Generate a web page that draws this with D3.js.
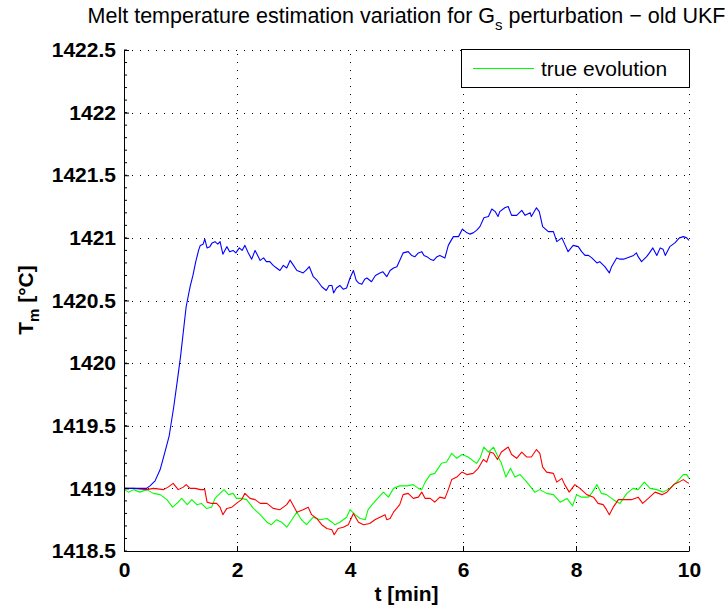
<!DOCTYPE html>
<html>
<head>
<meta charset="utf-8">
<script src="https://cdn.jsdelivr.net/npm/d3@7"></script>
<style>
  html, body { margin: 0; padding: 0; background: #fff; }
  svg { display: block; font-family: "Liberation Sans", Arial, Helvetica, sans-serif; }
</style>
</head>
<body>
<svg id="chart" width="728" height="611"></svg>
<script>
// Melt temperature T_m [°C] over time t [min]
const trueEvolution = [[0,1418.99],[0.08,1418.97],[0.17,1418.99],[0.28,1418.97],[0.40,1418.99],[0.52,1418.96],[0.64,1418.95],[0.76,1418.91],[0.86,1418.85],[0.96,1418.89],[1.02,1418.92],[1.12,1418.87],[1.20,1418.91],[1.29,1418.87],[1.37,1418.88],[1.46,1418.84],[1.55,1418.85],[1.61,1418.92],[1.70,1418.96],[1.77,1418.99],[1.85,1418.95],[1.93,1418.96],[1.99,1418.92],[2.08,1418.92],[2.17,1418.91],[2.29,1418.84],[2.41,1418.79],[2.53,1418.73],[2.61,1418.71],[2.70,1418.75],[2.79,1418.73],[2.88,1418.69],[2.97,1418.75],[3.06,1418.81],[3.14,1418.75],[3.23,1418.71],[3.35,1418.77],[3.47,1418.75],[3.59,1418.76],[3.68,1418.73],[3.73,1418.71],[3.82,1418.73],[3.94,1418.77],[4.00,1418.83],[4.09,1418.79],[4.18,1418.76],[4.27,1418.75],[4.32,1418.83],[4.41,1418.88],[4.53,1418.94],[4.59,1418.97],[4.68,1418.93],[4.77,1419.00],[4.88,1419.02],[5.00,1419.02],[5.12,1419.03],[5.21,1419.00],[5.27,1418.99],[5.33,1419.05],[5.42,1419.11],[5.50,1419.12],[5.62,1419.20],[5.71,1419.21],[5.80,1419.28],[5.89,1419.24],[5.98,1419.27],[6.09,1419.25],[6.24,1419.20],[6.30,1419.24],[6.37,1419.33],[6.45,1419.29],[6.54,1419.33],[6.60,1419.27],[6.68,1419.20],[6.76,1419.09],[6.84,1419.16],[6.92,1419.09],[7.01,1419.11],[7.13,1419.05],[7.27,1418.97],[7.36,1418.99],[7.48,1418.96],[7.60,1418.95],[7.72,1418.89],[7.84,1418.92],[7.94,1418.86],[8.01,1418.95],[8.10,1418.93],[8.22,1418.93],[8.29,1418.97],[8.37,1419.03],[8.45,1418.96],[8.54,1418.95],[8.66,1418.91],[8.78,1418.88],[8.90,1418.96],[9.01,1419.00],[9.10,1418.99],[9.21,1419.05],[9.31,1419.00],[9.43,1418.99],[9.54,1418.97],[9.66,1419.00],[9.78,1419.05],[9.90,1419.11],[9.96,1419.11],[10.00,1419.08]];

const newEstimate = [[0,1419.00],[0.17,1419.00],[0.40,1418.99],[0.52,1419.00],[0.70,1418.99],[0.78,1419.01],[0.87,1419.04],[0.96,1418.99],[1.05,1419.01],[1.10,1419.03],[1.17,1419.00],[1.26,1419.00],[1.35,1418.99],[1.43,1418.99],[1.47,1418.89],[1.55,1418.88],[1.64,1418.88],[1.70,1418.85],[1.75,1418.79],[1.82,1418.84],[1.91,1418.85],[1.99,1418.88],[2.08,1418.91],[2.14,1418.96],[2.23,1418.92],[2.32,1418.91],[2.41,1418.88],[2.53,1418.88],[2.64,1418.84],[2.76,1418.83],[2.88,1418.87],[2.94,1418.91],[3.06,1418.81],[3.17,1418.83],[3.26,1418.85],[3.32,1418.79],[3.41,1418.76],[3.50,1418.71],[3.59,1418.68],[3.68,1418.67],[3.72,1418.63],[3.79,1418.68],[3.88,1418.69],[3.97,1418.71],[4.06,1418.80],[4.15,1418.73],[4.24,1418.71],[4.35,1418.72],[4.44,1418.75],[4.53,1418.77],[4.62,1418.79],[4.65,1418.75],[4.71,1418.76],[4.77,1418.81],[4.88,1418.87],[4.94,1418.95],[5.03,1418.96],[5.12,1418.92],[5.21,1418.93],[5.27,1418.97],[5.33,1418.92],[5.42,1418.92],[5.50,1418.89],[5.59,1418.93],[5.68,1418.92],[5.74,1418.99],[5.80,1419.07],[5.89,1419.09],[5.98,1419.13],[6.07,1419.11],[6.18,1419.12],[6.27,1419.16],[6.36,1419.23],[6.42,1419.21],[6.48,1419.29],[6.54,1419.28],[6.61,1419.23],[6.68,1419.29],[6.74,1419.31],[6.80,1419.33],[6.86,1419.27],[6.95,1419.24],[7.04,1419.29],[7.13,1419.25],[7.21,1419.25],[7.30,1419.31],[7.36,1419.28],[7.41,1419.17],[7.48,1419.13],[7.60,1419.12],[7.66,1419.05],[7.75,1419.08],[7.80,1419.03],[7.88,1418.97],[7.98,1419.03],[8.07,1419.00],[8.19,1418.95],[8.31,1418.93],[8.39,1418.88],[8.48,1418.87],[8.54,1418.83],[8.59,1418.79],[8.66,1418.85],[8.75,1418.91],[8.87,1418.91],[8.98,1418.91],[9.10,1418.93],[9.18,1418.88],[9.28,1418.92],[9.40,1418.97],[9.52,1418.95],[9.61,1418.97],[9.73,1419.03],[9.82,1419.05],[9.90,1419.07],[9.96,1419.05],[10.00,1419.04]];

const oldUkfEstimate = [[0,1419.00],[0.20,1419.00],[0.40,1419.00],[0.46,1419.02],[0.55,1419.06],[0.64,1419.15],[0.73,1419.30],[0.80,1419.42],[0.88,1419.65],[0.95,1419.88],[1.00,1420.05],[1.05,1420.25],[1.10,1420.45],[1.17,1420.61],[1.22,1420.70],[1.27,1420.81],[1.32,1420.90],[1.35,1420.94],[1.40,1420.95],[1.43,1420.99],[1.47,1420.92],[1.52,1420.93],[1.56,1420.96],[1.61,1420.97],[1.66,1420.95],[1.70,1420.97],[1.75,1420.87],[1.82,1420.93],[1.87,1420.89],[1.93,1420.90],[1.98,1420.88],[2.04,1420.92],[2.09,1420.90],[2.14,1420.94],[2.20,1420.88],[2.26,1420.83],[2.32,1420.90],[2.41,1420.82],[2.47,1420.84],[2.52,1420.81],[2.58,1420.81],[2.64,1420.78],[2.70,1420.76],[2.76,1420.74],[2.82,1420.78],[2.88,1420.76],[2.94,1420.82],[3.00,1420.78],[3.06,1420.74],[3.12,1420.73],[3.17,1420.72],[3.22,1420.74],[3.28,1420.77],[3.35,1420.69],[3.42,1420.66],[3.50,1420.61],[3.58,1420.58],[3.63,1420.62],[3.68,1420.62],[3.71,1420.56],[3.76,1420.60],[3.82,1420.62],[3.88,1420.59],[3.94,1420.60],[4.00,1420.68],[4.06,1420.74],[4.11,1420.66],[4.15,1420.64],[4.21,1420.63],[4.26,1420.67],[4.30,1420.68],[4.38,1420.65],[4.45,1420.70],[4.53,1420.72],[4.58,1420.73],[4.65,1420.69],[4.71,1420.74],[4.77,1420.76],[4.83,1420.77],[4.88,1420.82],[4.94,1420.88],[5.03,1420.89],[5.09,1420.86],[5.15,1420.85],[5.21,1420.88],[5.27,1420.89],[5.31,1420.86],[5.36,1420.85],[5.42,1420.83],[5.48,1420.82],[5.54,1420.85],[5.59,1420.86],[5.68,1420.84],[5.74,1420.94],[5.79,1420.98],[5.83,1421.01],[5.92,1421.01],[5.99,1421.07],[6.07,1421.04],[6.12,1421.03],[6.18,1421.04],[6.24,1421.06],[6.30,1421.09],[6.37,1421.16],[6.45,1421.17],[6.51,1421.23],[6.57,1421.21],[6.62,1421.17],[6.65,1421.21],[6.74,1421.24],[6.80,1421.25],[6.86,1421.18],[6.95,1421.18],[7.04,1421.22],[7.10,1421.18],[7.19,1421.20],[7.21,1421.17],[7.30,1421.24],[7.35,1421.21],[7.41,1421.09],[7.51,1421.05],[7.60,1421.05],[7.66,1420.97],[7.75,1421.00],[7.80,1420.95],[7.86,1420.89],[7.95,1420.94],[8.04,1420.93],[8.10,1420.89],[8.16,1420.86],[8.22,1420.86],[8.28,1420.84],[8.37,1420.80],[8.42,1420.81],[8.51,1420.77],[8.59,1420.72],[8.63,1420.77],[8.72,1420.84],[8.78,1420.83],[8.84,1420.83],[8.90,1420.84],[8.96,1420.85],[9.02,1420.86],[9.07,1420.88],[9.10,1420.85],[9.16,1420.81],[9.25,1420.85],[9.30,1420.88],[9.36,1420.92],[9.43,1420.86],[9.49,1420.92],[9.54,1420.91],[9.58,1420.86],[9.66,1420.93],[9.75,1420.96],[9.83,1421.00],[9.90,1421.01],[9.96,1421.00],[10.00,1420.98]];

const xTicks = [0, 2, 4, 6, 8, 10];
const yTicks = [1418.5, 1419, 1419.5, 1420, 1420.5, 1421, 1421.5, 1422, 1422.5];
const yMinorTicks = d3.range(1418.5, 1422.55, 0.1);
const legendLabels = ["true evolution"];

const svg = d3.select("#chart");
const plot = { left: 124, right: 689, top: 50, bottom: 551 };

const x = d3.scaleLinear().domain([0, 10]).range([plot.left, plot.right]);
const y = d3.scaleLinear().domain([1418.5, 1422.5]).range([plot.bottom, plot.top]);

// dotted grid
const grid = svg.append("g").attr("stroke", "#000").attr("stroke-width", 1)
  .attr("stroke-dasharray", "1,7").attr("shape-rendering", "crispEdges");
grid.selectAll("line.gx").data(xTicks.slice(1)).join("line")
  .attr("x1", d => Math.round(x(d)) + 0.5).attr("x2", d => Math.round(x(d)) + 0.5)
  .attr("y1", plot.bottom).attr("y2", plot.top);
grid.selectAll("line.gy").data(yTicks.slice(1)).join("line")
  .attr("x1", plot.left).attr("x2", plot.right)
  .attr("y1", d => Math.round(y(d)) + 0.5).attr("y2", d => Math.round(y(d)) + 0.5);

// series
const line = d3.line().x(d => x(d[0])).y(d => y(d[1]));
const series = [
  { data: trueEvolution, color: "#00ff00" },
  { data: newEstimate, color: "#ff0000" },
  { data: oldUkfEstimate, color: "#0000ff" }
];
svg.append("g").selectAll("path").data(series).join("path")
  .attr("d", d => line(d.data))
  .attr("fill", "none")
  .attr("stroke", d => d.color)
  .attr("stroke-width", 1.1)
  .attr("stroke-linejoin", "round");

// axes (inward ticks)
const xAxis = d3.axisBottom(x).tickValues(xTicks).tickFormat(d3.format("d"))
  .tickSizeInner(-5).tickSizeOuter(0).tickPadding(11);
const yAxis = d3.axisLeft(y).tickValues(yTicks).tickFormat(d => String(d))
  .tickSizeInner(-5).tickSizeOuter(0).tickPadding(8);

const gx = svg.append("g").attr("transform", `translate(0,${plot.bottom})`).call(xAxis);
const gy = svg.append("g").attr("transform", `translate(${plot.left},0)`).call(yAxis);
[gx, gy].forEach(g => {
  g.select(".domain").attr("stroke", "#000").attr("stroke-width", 1);
  g.selectAll(".tick line").attr("stroke", "#000");
  g.selectAll(".tick text").attr("fill", "#000")
    .style("font-family", "'Liberation Sans', Arial, sans-serif")
    .style("font-size", "21px").style("font-weight", "bold");
});
gx.selectAll(".tick text").attr("dy", "0.71em");

// minor ticks on the temperature axis
svg.append("g").selectAll("line").data(yMinorTicks).join("line")
  .attr("x1", plot.left).attr("x2", plot.left + 3)
  .attr("y1", d => y(d)).attr("y2", d => y(d))
  .attr("stroke", "#000").attr("stroke-width", 1);

// axis labels
svg.append("text").attr("x", (plot.left + plot.right) / 2).attr("y", 601)
  .attr("text-anchor", "middle").style("font-size", "21px").style("font-weight", "bold")
  .text("t [min]");

const yl = svg.append("text").attr("transform", "translate(33,300) rotate(-90)")
  .attr("text-anchor", "middle").style("font-size", "21px").style("font-weight", "bold");
yl.append("tspan").text("T");
yl.append("tspan").attr("dy", 6).style("font-size", "15px").text("m");
yl.append("tspan").attr("dy", -6).text(" [\u00B0C]");

// title
const title = svg.append("text").attr("x", (plot.left + plot.right) / 2).attr("y", 23)
  .attr("text-anchor", "middle").style("font-size", "21.5px");
title.append("tspan").text("Melt temperature estimation variation for G");
title.append("tspan").attr("dy", 7).style("font-size", "15px").text("s");
title.append("tspan").attr("dy", -7).text(" perturbation \u2212 old UKF");

// legend
const legend = svg.append("g");
legend.append("rect").attr("x", 461.5).attr("y", 49.5).attr("width", 228).attr("height", 38)
  .attr("fill", "#fff").attr("stroke", "#000").attr("stroke-width", 1);
legend.selectAll("line").data(legendLabels).join("line")
  .attr("x1", 473).attr("x2", 534).attr("y1", 68.5).attr("y2", 68.5)
  .attr("stroke", "#00ff00").attr("stroke-width", 1.2);
legend.selectAll("text").data(legendLabels).join("text")
  .attr("x", 541).attr("y", 76).style("font-size", "21px").text(d => d);
</script>
</body>
</html>
